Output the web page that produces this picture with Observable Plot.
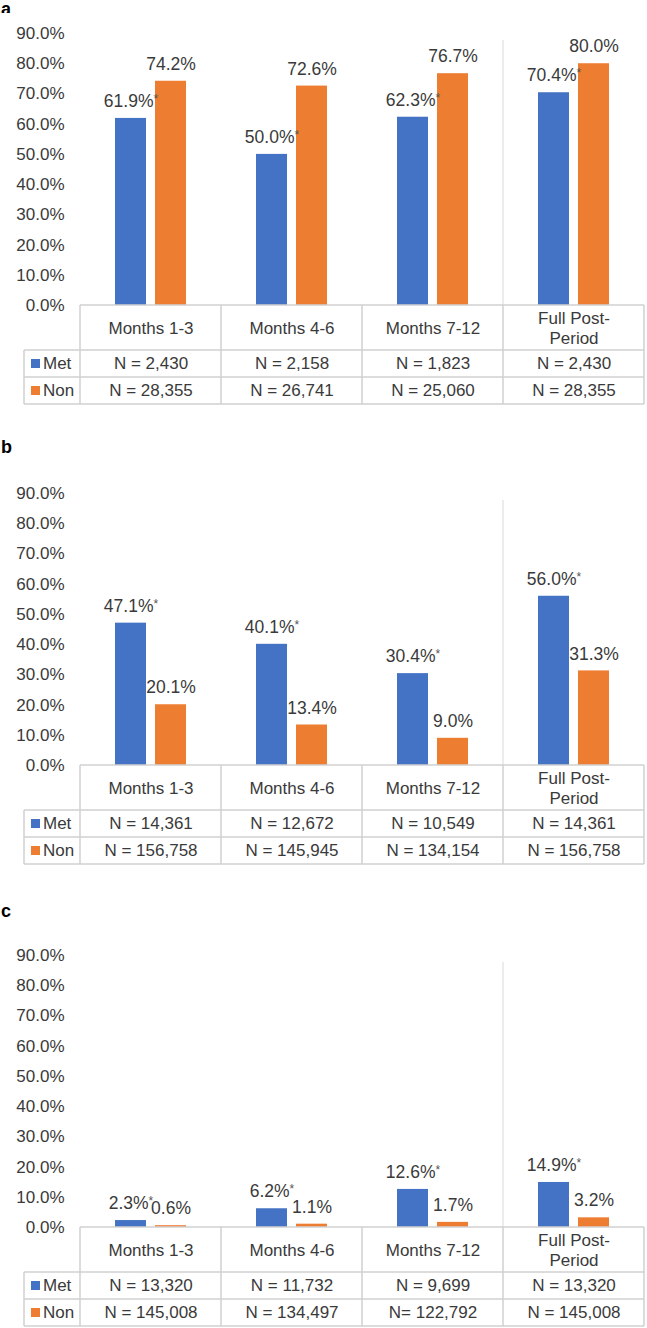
<!DOCTYPE html>
<html><head><meta charset="utf-8">
<script src="https://cdn.jsdelivr.net/npm/d3@7"></script>
<script src="https://cdn.jsdelivr.net/npm/@observablehq/plot@0.6"></script>
<style>
body{margin:0;background:#fff;}
#page{position:relative;width:647px;height:1328px;overflow:hidden;font-family:"Liberation Sans",Arial,sans-serif;color:#404040;background:#fff;}
.panel-label{position:absolute;left:1px;font-weight:bold;font-size:18px;line-height:18px;color:#000;}
</style></head><body><div id="page"></div>
<script>
// ---- data ----
const categories = ["Months 1-3", "Months 4-6", "Months 7-12", "Full Post-Period"];
const headerLabels = ["Months 1-3", "Months 4-6", "Months 7-12", "Full Post-\nPeriod"];
const series = ["Met", "Non"];
const yTicks = [0, 10, 20, 30, 40, 50, 60, 70, 80, 90];
const panelNames = ["a", "b", "c"];

const metA = [61.9, 50.0, 62.3, 70.4];
const nonA = [74.2, 72.6, 76.7, 80.0];
const metB = [47.1, 40.1, 30.4, 56.0];
const nonB = [20.1, 13.4, 9.0, 31.3];
const metC = [2.3, 6.2, 12.6, 14.9];
const nonC = [0.6, 1.1, 1.7, 3.2];
const metStarred = [true, true, true, true];
const nonStarred = [false, false, false, false];

const nMetA = ["N = 2,430", "N = 2,158", "N = 1,823", "N = 2,430"];
const nNonA = ["N = 28,355", "N = 26,741", "N = 25,060", "N = 28,355"];
const nMetB = ["N = 14,361", "N = 12,672", "N = 10,549", "N = 14,361"];
const nNonB = ["N = 156,758", "N = 145,945", "N = 134,154", "N = 156,758"];
const nMetC = ["N = 13,320", "N = 11,732", "N = 9,699", "N = 13,320"];
const nNonC = ["N = 145,008", "N = 134,497", "N= 122,792", "N = 145,008"];

// ---- layout (styling only) ----
const colors = ["#4472C4", "#ED7D31"];
const FONT = '"Liberation Sans", Arial, sans-serif';
const TXT = "#3a3a3a";
const svgTops = [13, 473, 935];
const labelTops = [0, 438, 902];
const M = {top: 20, bottom: 100, left: 80, right: 3};
const plotH = M.top + 272 + M.bottom;
const rowH = {header: 45, row: 27};
const legendLeft = 24;

const panels = [
  {name: panelNames[0], met: metA, non: nonA, nMet: nMetA, nNon: nNonA},
  {name: panelNames[1], met: metB, non: nonB, nMet: nMetB, nNon: nNonB},
  {name: panelNames[2], met: metC, non: nonC, nMet: nMetC, nNon: nNonC}
];

function drawPanel(p) {
  const bars = [];
  categories.forEach((c, i) => {
    bars.push({cat: c, series: series[0], value: p.met[i], star: metStarred[i]});
    bars.push({cat: c, series: series[1], value: p.non[i], star: nonStarred[i]});
  });
  const rows = categories.map((c, i) => ({cat: c, header: headerLabels[i], met: p.nMet[i], non: p.nNon[i]}));

  const plot = Plot.plot({
    width: 647, height: plotH,
    marginTop: M.top, marginBottom: M.bottom, marginLeft: M.left, marginRight: M.right,
    style: {fontFamily: FONT, fontSize: "17px", color: TXT, background: "white", overflow: "visible"},
    fx: {domain: categories, padding: 0, axis: null},
    x: {domain: series, paddingInner: 0.225, paddingOuter: 0.875, axis: null},
    y: {domain: [0, 90], ticks: yTicks, tickFormat: d => d.toFixed(1) + "%", tickSize: 0, tickPadding: 16, label: null},
    color: {domain: series, range: colors},
    marks: [
      Plot.barY(bars, {fx: "cat", x: "series", y: "value", fill: "series"}),
      Plot.text(bars, {fx: "cat", x: "series", y: "value",
        text: d => d.value.toFixed(1) + "%" + (d.star ? "*" : ""),
        dy: -17, fontSize: 17.5, fill: TXT, lineAnchor: "middle"}),
      Plot.text(rows, {fx: "cat", text: "header", frameAnchor: "bottom", textAnchor: "middle", lineAnchor: "middle",
        dy: rowH.header / 2, fontSize: 17, lineHeight: 20 / 17, fill: TXT}),
      Plot.text(rows, {fx: "cat", text: "met", frameAnchor: "bottom", textAnchor: "middle", lineAnchor: "middle",
        dy: rowH.header + rowH.row / 2, fontSize: 17, fill: TXT}),
      Plot.text(rows, {fx: "cat", text: "non", frameAnchor: "bottom", textAnchor: "middle", lineAnchor: "middle",
        dy: rowH.header + rowH.row * 1.5, fontSize: 17, fill: TXT})
    ]
  });

  // superscript asterisks
  const ns = "http://www.w3.org/2000/svg";
  plot.querySelectorAll("text").forEach(t => {
    const s = t.textContent;
    if (t.childElementCount === 0 && s.endsWith("*")) {
      t.textContent = "";
      const a = document.createElementNS(ns, "tspan");
      a.textContent = s.slice(0, -1);
      const b = document.createElementNS(ns, "tspan");
      b.textContent = "*";
      b.setAttribute("font-size", "12");
      b.setAttribute("dy", "-4");
      b.setAttribute("fill", "#555");
      t.append(a, b);
    }
  });

  // data table grid, legend, separator (placed through the plot's scales)
  const fxS = plot.scale("fx"), yS = plot.scale("y");
  const bw = fxS.bandwidth;
  const xs = categories.map(c => fxS.apply(c));
  const xEnd = xs[xs.length - 1] + bw;
  const y0 = yS.apply(0);
  const yH = y0 + rowH.header, yM = yH + rowH.row, yN = yM + rowH.row;
  const svg = d3.select(plot);

  svg.append("line")
    .attr("x1", xs[3]).attr("x2", xs[3])
    .attr("y1", yS.apply(87.7)).attr("y2", y0)
    .attr("stroke", "#d9d9d9").attr("stroke-width", 1);

  const g = svg.append("g").attr("stroke", "#d0d0d0").attr("stroke-width", 1.5).attr("fill", "none");
  const line = (x1, y1, x2, y2) => g.append("line").attr("x1", x1).attr("y1", y1).attr("x2", x2).attr("y2", y2);
  line(xs[0], y0, xEnd, y0);
  [yH, yM, yN].forEach(y => line(legendLeft, y, xEnd, y));
  [...xs, xEnd].forEach(x => line(x, y0, x, yN));
  line(legendLeft, yH, legendLeft, yN);

  const lg = svg.append("g").attr("font-family", FONT).attr("font-size", 17).attr("fill", TXT).attr("text-anchor", "start");
  series.forEach((s, i) => {
    const cy = yH + rowH.row * (i + 0.5);
    lg.append("rect").attr("x", 31).attr("y", cy - 4.5).attr("width", 9).attr("height", 9).attr("fill", colors[i]);
    lg.append("text").attr("x", 43).attr("y", cy).attr("dy", "0.35em").attr("text-anchor", "start").text(s);
  });
  return plot;
}

const page = document.getElementById("page");
panels.forEach((p, i) => {
  const lab = document.createElement("div");
  lab.className = "panel-label";
  lab.style.top = labelTops[i] + "px";
  lab.textContent = p.name;
  page.append(lab);
  const plot = drawPanel(p);
  plot.style.position = "absolute";
  plot.style.left = "0px";
  plot.style.top = svgTops[i] + "px";
  page.append(plot);
});
</script></body></html>
